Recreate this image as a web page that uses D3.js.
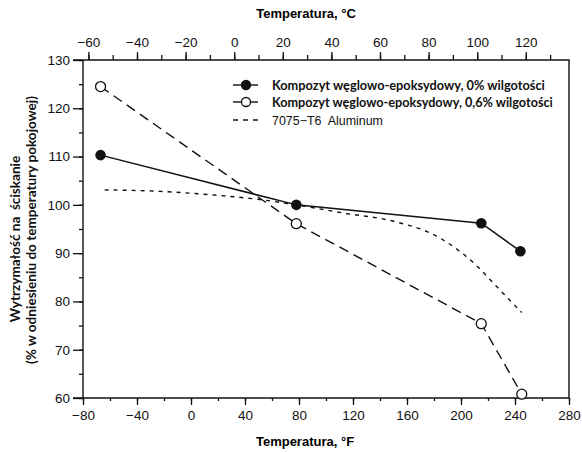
<!DOCTYPE html>
<html>
<head>
<meta charset="utf-8">
<script src="https://cdn.jsdelivr.net/npm/d3@7"></script>
<style>
  body { margin: 0; background: #fff; }
  svg { display: block; }
  text { white-space: pre; }
</style>
</head>
<body>
<div id="chart"></div>
<script>
// values (temperatures in °F, strength in % of room temperature)
const dryF = [-67, 78, 215, 244];
const dryVal = [110.3, 100, 96.2, 90.4];
const wetF = [-67, 78, 215, 245];
const wetVal = [124.5, 96.1, 75.4, 60.8];
const aluF = [-64, -23, 14, 51, 78, 113, 150, 182, 212, 226, 245];
const aluVal = [103.1, 102.8, 102.1, 101.1, 100, 98.3, 96.6, 93.5, 87.3, 83.2, 77.7];

const fTicks = [-80, -40, 0, 40, 80, 120, 160, 200, 240, 280];
const cTicks = [-60, -40, -20, 0, 20, 40, 60, 80, 100, 120];
const yTicks = [60, 70, 80, 90, 100, 110, 120, 130];

const legendLabels = [
  "Kompozyt węglowo-epoksydowy, 0% wilgotości",
  "Kompozyt węglowo-epoksydowy, 0,6% wilgotości",
  "7075−T6  Aluminum"
];

const W = 582, H = 453;
const mLeft = 83, mRight = 569, mTop = 60, mBottom = 398;
const tickFont = "Liberation Sans, Arial, sans-serif";
const boldFont = "Lato, sans-serif";

const svg = d3.select("#chart").append("svg")
  .attr("width", W)
  .attr("height", H);

const x = d3.scaleLinear().domain([-80, 280]).range([mLeft, mRight]);
const xc = d3.scaleLinear().domain([(-80 - 32) / 1.8, (280 - 32) / 1.8]).range([mLeft, mRight]);
const y = d3.scaleLinear().domain([60, 130]).range([mBottom, mTop]);

const minus = d => d < 0 ? "−" + (-d) : d;

// shrink/grow a text's font so it spans about the width seen in the picture
function fit(sel, px) {
  const size = parseFloat(sel.style("font-size"));
  const len = sel.node().getComputedTextLength();
  sel.style("font-size", (size * px / len).toFixed(2) + "px");
}

// bottom axis (°F)
const gx = svg.append("g").attr("transform", "translate(0," + mBottom + ")");
gx.call(d3.axisBottom(x).tickValues(d3.range(-80, 281, 20)).tickSize(3).tickFormat(""));
gx.append("g").call(d3.axisBottom(x).tickValues(fTicks).tickSize(7).tickPadding(5).tickFormat(minus));

// top axis (°C)
const gc = svg.append("g").attr("transform", "translate(0," + mTop + ")");
gc.call(d3.axisTop(xc).tickValues(d3.range(-60, 131, 10)).tickSize(5).tickFormat(""));
gc.append("g").call(d3.axisTop(xc).tickValues(cTicks).tickSize(8).tickPadding(5).tickFormat(minus));

// left axis
const gy = svg.append("g").attr("transform", "translate(" + mLeft + ",0)");
gy.call(d3.axisLeft(y).tickValues(d3.range(60, 131, 5)).tickSize(4).tickFormat(""));
gy.append("g").call(d3.axisLeft(y).tickValues(yTicks).tickSize(10).tickPadding(3));

svg.selectAll(".domain").remove();
svg.selectAll(".tick line").attr("stroke", "#111").attr("stroke-width", 1.3);
svg.selectAll(".tick text")
  .attr("fill", "#111")
  .style("font-family", tickFont)
  .style("font-size", "13.5px");

// frame
const frame = svg.append("g").attr("stroke", "#111").attr("stroke-width", 1.4).attr("fill", "none");
frame.append("path").attr("d", `M${mLeft - 10},${mTop}H${mRight}V${mBottom}`);
frame.append("path").attr("d", `M${mLeft - 10},${mBottom}H${mRight}`);
frame.append("path").attr("d", `M${mLeft},${mTop}V${mBottom}`);

// axis titles
svg.append("text")
  .attr("x", 306).attr("y", 18)
  .attr("text-anchor", "middle")
  .style("font-family", tickFont).style("font-weight", "bold").style("font-size", "13px")
  .text("Temperatura, °C");

svg.append("text")
  .attr("x", 305).attr("y", 446)
  .attr("text-anchor", "middle")
  .style("font-family", tickFont).style("font-weight", "bold").style("font-size", "13px")
  .text("Temperatura, °F");

// y title: both lines same size, sized from the second line
const yTitle = svg.append("g").attr("transform", "translate(0,245) rotate(-90)")
  .attr("text-anchor", "middle")
  .style("font-family", boldFont).style("font-weight", "bold")
  .attr("fill", "#111");
const yt1 = yTitle.append("text").attr("x", 6).attr("y", 20).style("font-size", "12px")
  .text("Wytrzymałość na  ściskanie");
const yt2 = yTitle.append("text").attr("x", 15).attr("y", 36).style("font-size", "12px")
  .text("(% w odniesieniu do temperatury pokojowej)").call(fit, 268);
yt1.style("font-size", yt2.style("font-size"));

// series
const line = d3.line().x(d => x(d[0])).y(d => y(d[1]));
const dry = dryF.map((f, i) => [f, dryVal[i]]);
const wet = wetF.map((f, i) => [f, wetVal[i]]);
const alu = aluF.map((f, i) => [f, aluVal[i]]);

svg.append("path").datum(alu)
  .attr("d", line.curve(d3.curveMonotoneX))
  .attr("fill", "none").attr("stroke", "#111").attr("stroke-width", 1.4)
  .attr("stroke-dasharray", "4,5");

svg.append("path").datum(wet)
  .attr("d", line.curve(d3.curveLinear))
  .attr("fill", "none").attr("stroke", "#111").attr("stroke-width", 1.4)
  .attr("stroke-dasharray", "10,6");

svg.append("path").datum(dry)
  .attr("d", line.curve(d3.curveLinear))
  .attr("fill", "none").attr("stroke", "#111").attr("stroke-width", 1.5);

svg.append("g").selectAll("circle").data(wet).join("circle")
  .attr("cx", d => x(d[0])).attr("cy", d => y(d[1])).attr("r", 5)
  .attr("fill", "#fff").attr("stroke", "#111").attr("stroke-width", 1.3);

svg.append("g").selectAll("circle").data(dry).join("circle")
  .attr("cx", d => x(d[0])).attr("cy", d => y(d[1])).attr("r", 5.3)
  .attr("fill", "#111");

// legend
const legY = [85, 102, 120];
const legW = [273, 281, 111];
const leg = svg.append("g");
legendLabels.forEach((lab, i) => {
  const g = leg.append("g").attr("transform", "translate(0," + legY[i] + ")");
  g.append("line").attr("x1", 233).attr("x2", 258).attr("y1", 0).attr("y2", 0)
    .attr("stroke", "#111").attr("stroke-width", 1.4)
    .attr("stroke-dasharray", i === 2 ? "5,5" : null);
  if (i < 2) {
    g.append("circle").attr("cx", 246).attr("cy", 0).attr("r", 4.5)
      .attr("fill", i === 0 ? "#111" : "#fff").attr("stroke", "#111").attr("stroke-width", 1.3);
  }
  g.append("text").attr("x", 272).attr("y", 4.5)
    .attr("fill", "#111")
    .style("font-family", i < 2 ? boldFont : tickFont)
    .style("font-weight", i < 2 ? "bold" : "normal")
    .style("font-size", "12px")
    .text(lab)
    .call(fit, legW[i]);
});
</script>
</body>
</html>
